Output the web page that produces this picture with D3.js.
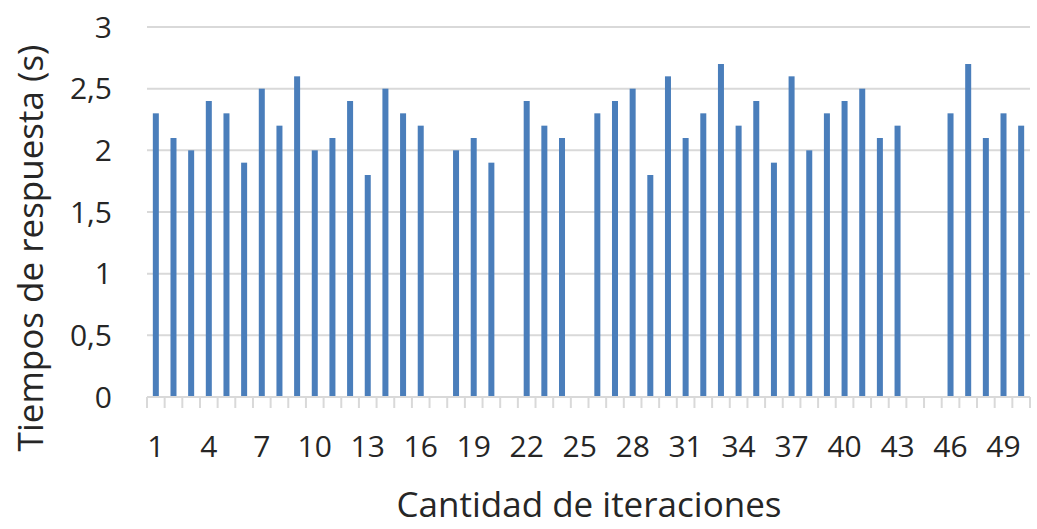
<!DOCTYPE html>
<html><head><meta charset="utf-8">
<script src="https://cdn.jsdelivr.net/npm/d3@7"></script>
<style>body{margin:0;background:#fff}svg{display:block}</style>
</head><body>
<svg id="c" width="1037" height="529"></svg>
<script>
const categories = d3.range(1, 51).map(String);
const values = [2.3,2.1,2.0,2.4,2.3,1.9,2.5,2.2,2.6,2.0,
                2.1,2.4,1.8,2.5,2.3,2.2,null,2.0,2.1,1.9,
                null,2.4,2.2,2.1,null,2.3,2.4,2.5,1.8,2.6,
                2.1,2.3,2.7,2.2,2.4,1.9,2.6,2.0,2.3,2.4,
                2.5,2.1,2.2,null,null,2.3,2.7,2.1,2.3,2.2];
const yTicks = [0,0.5,1,1.5,2,2.5,3];
const xTickLabels = categories.filter((d,i)=>i%3===0);
const yTitle = "Tiempos de respuesta (s)";
const xTitle = "Cantidad de iteraciones";

const svg = d3.select("#c");
const L=147, R=1030, T=27, B=397;
const font = "'Open Sans', sans-serif";
const x = d3.scaleBand().domain(categories).range([L,R]).paddingInner(0.66).paddingOuter(0.33);
const y = d3.scaleLinear().domain([0,3]).range([B,T]);

// gridlines
svg.append("g").selectAll("line").data(yTicks.filter(d=>d>0)).join("line")
  .attr("x1",L).attr("x2",R).attr("y1",d=>y(d)).attr("y2",d=>y(d))
  .attr("stroke","#d9d9d9").attr("stroke-width",2);

// y labels
svg.append("g").selectAll("text").data(yTicks).join("text")
  .attr("x",112).attr("y",d=>y(d)).attr("dy","0.36em")
  .attr("text-anchor","end").attr("font-family",font).attr("font-size",30).attr("fill","#262626")
  .text(d=>d3.format("")(d).replace(".",","));

// bars
svg.append("g").selectAll("rect").data(categories.map((c,i)=>({c,v:values[i]})).filter(d=>d.v!=null)).join("rect")
  .attr("x",d=>x(d.c)).attr("width",x.bandwidth())
  .attr("y",d=>y(d.v)).attr("height",d=>B-y(d.v))
  .attr("fill","#4a7ebb");

// x axis line and ticks
const step = x.step();
svg.append("line").attr("x1",L).attr("x2",R).attr("y1",B).attr("y2",B).attr("stroke","#d9d9d9").attr("stroke-width",2);
svg.append("g").selectAll("line").data(d3.range(0,categories.length+1)).join("line")
  .attr("x1",i=>L+i*step).attr("x2",i=>L+i*step).attr("y1",B).attr("y2",B+11)
  .attr("stroke","#d9d9d9").attr("stroke-width",2);

// x labels
svg.append("g").selectAll("text").data(xTickLabels).join("text")
  .attr("x",d=>x(d)+x.bandwidth()/2).attr("y",457)
  .attr("text-anchor","middle").attr("font-family",font).attr("font-size",30).attr("fill","#262626")
  .text(d=>d);

// titles
svg.append("text").attr("x",589).attr("y",517).attr("text-anchor","middle")
  .attr("font-family",font).attr("font-size",35).attr("fill","#262626").text(xTitle);
svg.append("text").attr("transform","translate(43,248) rotate(-90)").attr("text-anchor","middle")
  .attr("font-family",font).attr("font-size",35).attr("fill","#262626").text(yTitle);
</script>
</body></html>
